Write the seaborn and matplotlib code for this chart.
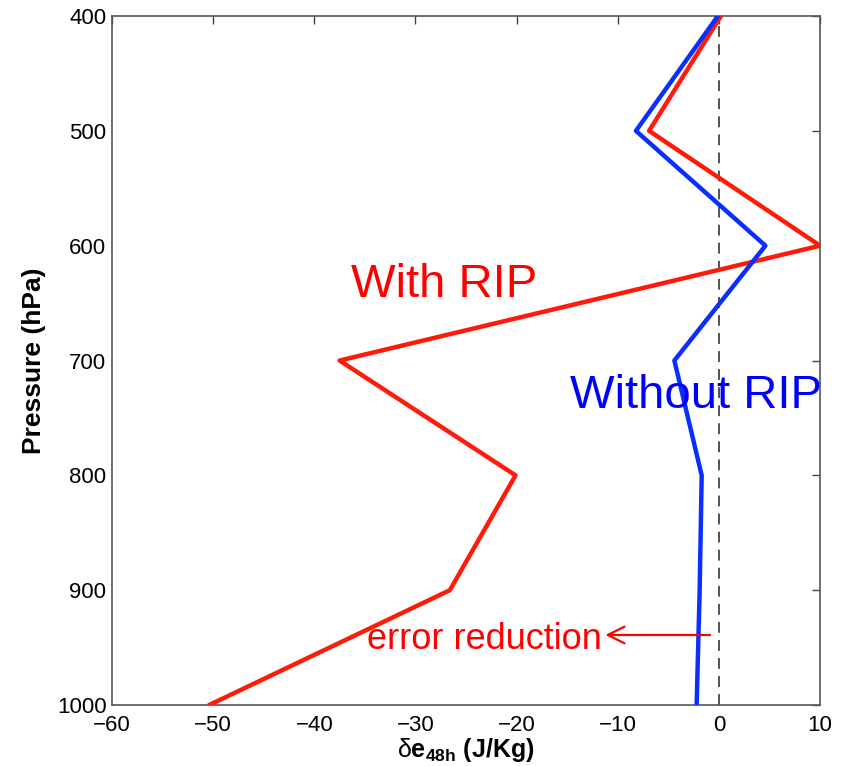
import numpy as np
import pandas as pd
import seaborn as sns
import matplotlib.pyplot as plt

# niveis de pressao (hPa) e erro de energia
pressao = [400, 500, 600, 700, 800, 900, 1000]
com_rip = [0.2, -6.9, 10.0, -37.5, -20.1, -26.6, -50.4]
sem_rip = [-0.1, -8.2, 4.6, -4.4, -1.7, -1.9, -2.2]

xticks = [-60, -50, -40, -30, -20, -10, 0, 10]
yticks = [400, 500, 600, 700, 800, 900, 1000]

df = pd.DataFrame({'p': pressao + pressao,
                   'de': com_rip + sem_rip,
                   'caso': ['With RIP'] * 7 + ['Without RIP'] * 7})

sns.set_style('white')
plt.rcParams['font.family'] = ['Liberation Sans', 'DejaVu Sans']
plt.rcParams['mathtext.fontset'] = 'custom'
plt.rcParams['mathtext.rm'] = 'Liberation Sans'
plt.rcParams['mathtext.bf'] = 'Liberation Sans:bold'
plt.rcParams['mathtext.it'] = 'Liberation Sans:italic'
plt.rcParams['text.color'] = 'black'
plt.rcParams['axes.labelcolor'] = 'black'

fig = plt.figure(figsize=(8.44, 7.66), dpi=100)
ax = fig.add_axes([0.1327, 0.0796, 0.8389, 0.8995])

ax.axvline(0, color='#444444', lw=1.3, ls=(0, (6, 4)), zorder=1)

sns.lineplot(data=df, x='de', y='p', hue='caso', sort=False, estimator=None,
             palette={'With RIP': '#ff1a0a', 'Without RIP': '#0a2eff'},
             lw=3.2, legend=False, ax=ax, zorder=3)

ax.set_xlim(-60, 10)
ax.set_ylim(1000, 400)
ax.set_xticks(xticks)
ax.set_yticks(yticks)
ax.set_xticklabels(['\u2212' + str(-t) if t < 0 else str(t) for t in xticks])
ax.tick_params(direction='in', length=6, width=1, colors='#444444',
               labelcolor='black', labelsize=16, top=True, right=True, pad=4)
ax.tick_params(axis='x', pad=7)

for s in ax.spines.values():
    s.set_color('#555555')
    s.set_linewidth(1.2)

ax.set_ylabel('Pressure (hPa)', fontsize=19, fontweight='bold', labelpad=8)
ax.set_xlabel(r'$\mathrm{\delta}\mathbf{e}_{\mathbf{48h}}$ (J/Kg)', fontsize=18,
              fontweight='bold', labelpad=0)

ax.text(-36.4, 645, 'With RIP', color='red', fontsize=34,
        va='baseline', ha='left')
ax.text(-14.7, 741, 'Without RIP', color='#0000ff', fontsize=34,
        va='baseline', ha='left')
ax.text(-34.8, 951, 'error reduction', color='red', fontsize=26,
        va='baseline', ha='left')
ax.annotate('', xy=(-11.5, 939), xytext=(-0.6, 939),
            arrowprops=dict(arrowstyle='->', color='red', lw=1.6,
                            mutation_scale=30))

fig.savefig('out.png', dpi=100)
